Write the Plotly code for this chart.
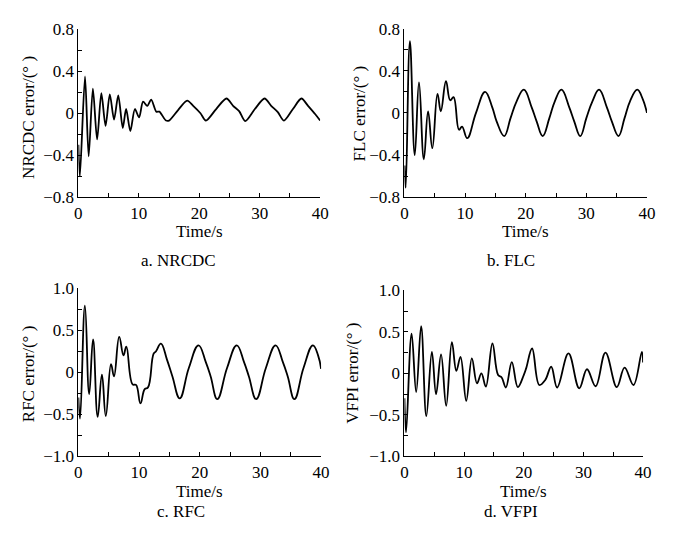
import plotly.graph_objects as go

# page body margin of the browser shifts the figure by 8 px; compensate
OFF = 8
W, H = 678 - 2 * OFF, 538 - 2 * OFF

# ---- data ----
t_a = [0, 0.25, 1.1, 1.7, 2.4, 3.1, 3.8, 4.5, 5.2, 5.9, 6.6, 7.35, 7.9, 8.6, 9.35, 10.05, 10.7, 11.4,
       12.05, 12.9, 13.4, 14.5, 15.0, 16.5, 18.0, 19.0, 20.2, 21.1, 22.8, 24.5, 25.6, 26.6, 27.6, 29.2,
       30.8, 31.9, 33.0, 34.0, 35.5, 36.9, 38.0, 39.2, 40]
v_a = [-0.3, -0.6, 0.35, -0.41, 0.235, -0.25, 0.19, -0.12, 0.18, -0.06, 0.17, -0.14, 0.04, -0.17, 0.04,
       -0.04, 0.11, 0.07, 0.13, 0.015, 0.015, -0.07, -0.07, 0.03, 0.12, 0.07, 0.0, -0.07, 0.04, 0.14, 0.07,
       0.02, -0.075, 0.04, 0.14, 0.07, 0.01, -0.07, 0.04, 0.14, 0.07, -0.01, -0.07]

t_b = [0, 0.2, 0.9, 1.7, 2.4, 3.2, 3.9, 4.6, 5.45, 6.0, 6.85, 7.55, 8.1, 9.0, 9.5, 10.35, 11.8, 13.3,
       14.5, 15.2, 16.45, 17.5, 18.5, 19.7, 21.0, 21.8, 22.8, 23.9, 24.8, 25.9, 27.2, 28.0, 29.0, 30.0,
       31.0, 32.1, 33.4, 34.2, 35.3, 36.3, 37.2, 38.4, 39.3, 40]
v_b = [-0.5, -0.71, 0.68, -0.40, 0.29, -0.44, 0.015, -0.335, 0.18, 0.015, 0.30, 0.12, 0.15, -0.16, -0.13,
       -0.24, 0.0, 0.20, 0.05, -0.08, -0.22, -0.05, 0.11, 0.22, 0.05, -0.08, -0.22, -0.05, 0.11, 0.22, 0.05,
       -0.08, -0.22, -0.05, 0.11, 0.22, 0.05, -0.08, -0.22, -0.05, 0.11, 0.22, 0.13, 0.0]

t_c = [0, 0.27, 1.08, 1.78, 2.42, 3.18, 3.88, 4.52, 5.38, 5.87, 6.73, 7.43, 7.9, 8.94, 9.5, 10.23, 10.93,
       11.47, 12.4, 12.8, 13.6, 14.6, 15.5, 16.7, 18.2, 19.8, 21.0, 21.8, 22.9, 24.5, 26.1, 27.3, 28.1, 29.3,
       30.9, 32.5, 33.7, 34.5, 35.6, 37.1, 38.65, 39.5, 40]
v_c = [-0.3, -0.55, 0.79, -0.26, 0.39, -0.53, -0.03, -0.52, 0.095, -0.05, 0.42, 0.2, 0.305, -0.145, -0.15,
       -0.37, -0.2, -0.18, 0.22, 0.25, 0.34, 0.15, -0.05, -0.31, 0.05, 0.32, 0.12, -0.05, -0.32, 0.05, 0.32,
       0.12, -0.05, -0.32, 0.05, 0.32, 0.12, -0.05, -0.32, 0.05, 0.32, 0.2, 0.04]

t_d = [0, 0.27, 1.2, 1.97, 2.8, 3.67, 4.6, 5.3, 6.14, 7.0, 7.95, 8.7, 9.4, 10.36, 11.3, 12.16, 12.9, 13.65,
       14.75, 15.7, 16.3, 17.0, 18.0, 19.0, 20.0, 20.4, 21.4, 22.6, 23.6, 24.6, 25.6, 27.5, 29.3, 30.6, 32.05,
       33.7, 35.6, 36.9, 38.4, 39.8, 40]
v_d = [-0.3, -0.71, 0.48, -0.225, 0.57, -0.515, 0.26, -0.25, 0.23, -0.39, 0.375, 0.03, 0.2, -0.33, 0.18,
       -0.12, 0.0, -0.16, 0.36, -0.02, -0.05, -0.17, 0.135, -0.165, -0.02, 0.06, 0.3, -0.14, -0.08, 0.08,
       -0.17, 0.24, -0.18, 0.05, -0.155, 0.25, -0.165, 0.07, -0.14, 0.26, 0.13]

x_ticks = [0, 10, 20, 30, 40]
y_ticks_ab = [-0.8, -0.4, 0, 0.4, 0.8]
y_text_ab = ["\u22120.8", "\u22120.4", "0", "0.4", "0.8"]
y_ticks_cd = [-1.0, -0.5, 0, 0.5, 1.0]
y_text_cd = ["\u22121.0", "\u22120.5", "0", "0.5", "1.0"]

y_titles = ["NRCDC error/(\u00b0 )", "FLC error/(\u00b0 )", "RFC error/(\u00b0 )", "VFPI error/(\u00b0 )"]
captions = ["a. NRCDC", "b. FLC", "c. RFC", "d. VFPI"]
x_title = "Time/s"

FONT = "Liberation Serif"

def px_x(p):
    return (p - OFF) / W

def px_y(p):
    return 1 - (p - OFF) / H

# panel pixel boxes (screen px): (left, right, top, bottom)
boxes = [(75.7, 322.3, 20.7, 195.0),
         (408.3, 655.7, 20.0, 195.0),
         (75.7, 323.3, 289.3, 464.0),
         (408.3, 651.7, 291.7, 464.0)]

series = [(t_a, v_a), (t_b, v_b), (t_c, v_c), (t_d, v_d)]
smooth = [0.8, 1.2, 1.25, 1.1]

fig = go.Figure()
layout = dict(width=W, height=H, margin=dict(l=0, r=0, t=0, b=0),
              paper_bgcolor="white", plot_bgcolor="white", showlegend=False,
              font=dict(family=FONT, size=16, color="black"))

for i, ((t, v), (l, r, tp, bt)) in enumerate(zip(series, boxes)):
    n = "" if i == 0 else str(i + 1)
    fig.add_trace(go.Scatter(x=t, y=v, mode="lines",
                             line=dict(color="black", width=1.8, shape="spline", smoothing=smooth[i]),
                             xaxis="x" + n, yaxis="y" + n, hoverinfo="skip"))
    ab = i < 2
    layout["xaxis" + n] = dict(domain=[px_x(l), px_x(r)], anchor="y" + n, range=[0, 40],
                               tickvals=x_ticks, ticks="inside", ticklen=4, tickwidth=1, tickcolor="black",
                               minor=dict(dtick=5, tick0=0, ticks="inside", ticklen=4, tickwidth=1, tickcolor="black"),
                               showline=True, linecolor="black", linewidth=1, showgrid=False, zeroline=False,
                               tickfont=dict(family=FONT, size=17, color="black"))
    layout["yaxis" + n] = dict(domain=[px_y(bt), px_y(tp)], anchor="x" + n,
                               range=[-0.8, 0.8] if ab else [-1.0, 1.0],
                               tickvals=y_ticks_ab if ab else y_ticks_cd,
                               ticktext=y_text_ab if ab else y_text_cd,
                               ticks="inside", ticklen=4, tickwidth=1, tickcolor="black",
                               minor=dict(dtick=0.2 if ab else 0.25, tick0=0, ticks="inside", ticklen=4,
                                          tickwidth=1, tickcolor="black"),
                               showline=True, linecolor="black", linewidth=1, showgrid=False, zeroline=False,
                               tickfont=dict(family=FONT, size=17, color="black"))

fig.update_layout(**layout)

ann = []
for (l, r, tp, bt) in boxes:
    ann.append(dict(x=px_x((l + r) / 2), y=px_y(bt + 36), xref="paper", yref="paper", text=x_title,
                    showarrow=False, xanchor="center", yanchor="middle", font=dict(family=FONT, size=17)))
cap_pos = [(178, 261), (517, 261), (180, 521), (517, 521)]
for txt, (cx, cy) in zip(captions, cap_pos):
    ann.append(dict(x=px_x(cx), y=px_y(cy), xref="paper", yref="paper", text=txt, showarrow=False,
                    xanchor="center", yanchor="middle", font=dict(family=FONT, size=17)))
yt_pos = [(25, 112), (362, 108), (25, 378), (355, 378)]
for txt, (cx, cy) in zip(y_titles, yt_pos):
    ann.append(dict(x=px_x(cx), y=px_y(cy), xref="paper", yref="paper", text=txt, showarrow=False,
                    textangle=-90, xanchor="center", yanchor="middle", font=dict(family=FONT, size=17)))
fig.update_layout(annotations=ann)

fig.write_html("out.html")
